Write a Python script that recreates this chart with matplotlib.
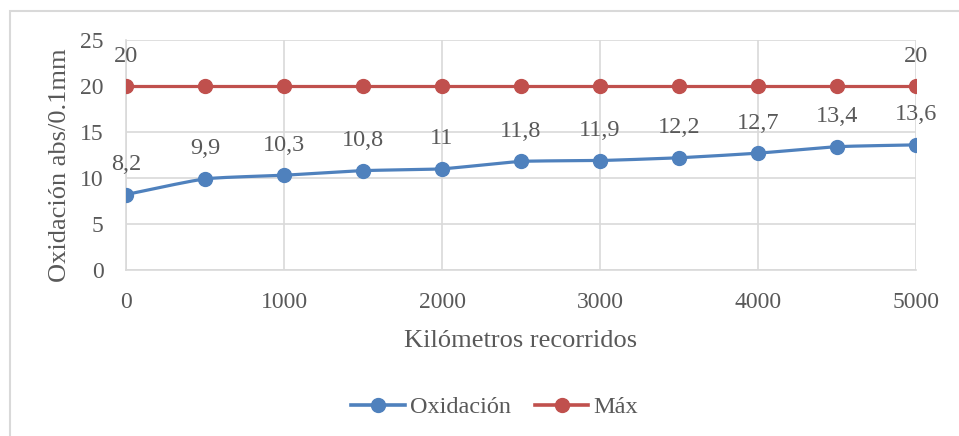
import numpy as np
import matplotlib
matplotlib.use("Agg")
import matplotlib.pyplot as plt
from matplotlib.patches import Rectangle

# Data
km = [0, 500, 1000, 1500, 2000, 2500, 3000, 3500, 4000, 4500, 5000]
oxidacion = [8.2, 9.9, 10.3, 10.8, 11.0, 11.8, 11.9, 12.2, 12.7, 13.4, 13.6]
oxidacion_labels = ["8,2", "9,9", "10,3", "10,8", "11", "11,8", "11,9", "12,2", "12,7", "13,4", "13,6"]
maximo = [20] * 11
x_ticks = [0, 1000, 2000, 3000, 4000, 5000]
y_ticks = [0, 5, 10, 15, 20, 25]

BLUE = "#4F81BD"
RED = "#C0504D"
TEXT = "#595959"
GRID = "#D9D9D9"

plt.rcParams["font.family"] = ["Liberation Serif", "DejaVu Serif"]


def smooth(xs, ys, n=20):
    """Hermite smoothing of a polyline (for drawing only)."""
    xs = np.asarray(xs, float)
    ys = np.asarray(ys, float)
    px = np.concatenate([[2 * xs[0] - xs[1]], xs, [2 * xs[-1] - xs[-2]]])
    py = np.concatenate([[2 * ys[0] - ys[1]], ys, [2 * ys[-1] - ys[-2]]])
    outx, outy = [], []
    t = np.linspace(0, 1, n, endpoint=False)
    for i in range(1, len(px) - 2):
        for arr, out in ((px, outx), (py, outy)):
            p0, p1, p2, p3 = arr[i - 1], arr[i], arr[i + 1], arr[i + 2]
            m1 = (p2 - p0) / 2 * 0.6
            m2 = (p3 - p1) / 2 * 0.6
            h00 = 2 * t**3 - 3 * t**2 + 1
            h10 = t**3 - 2 * t**2 + t
            h01 = -2 * t**3 + 3 * t**2
            h11 = t**3 - t**2
            out.extend(h00 * p1 + h10 * m1 + h01 * p2 + h11 * m2)
    outx.append(xs[-1])
    outy.append(ys[-1])
    return np.array(outx), np.array(outy)


fig = plt.figure(figsize=(9.59, 4.36), dpi=100)
ax = fig.add_axes([126 / 959, 1 - 270 / 436, (916 - 126) / 959, (270 - 40) / 436])

# Outer chart frame
fig.patches.append(Rectangle((9.5 / 959, -0.1), 1.2, 1 - 11 / 436 + 0.1,
                             transform=fig.transFigure, fill=False,
                             edgecolor="#D9D9D9", linewidth=1.5))

sx, sy = smooth(km, oxidacion)
ax.plot(sx, sy, color=BLUE, linewidth=2.3, solid_capstyle="round", zorder=3)
ax.plot(km, oxidacion, linestyle="none", marker="o", markersize=10,
        color=BLUE, zorder=4)
ax.plot(km, maximo, color=RED, linewidth=2.3, marker="o", markersize=10, zorder=3)

# Legend proxies
ax.plot([], [], color=BLUE, linewidth=2.6, marker="o", markersize=10, label="Oxidación")
ax.plot([], [], color=RED, linewidth=2.6, marker="o", markersize=10, label="Máx")

for x, y, lab in zip(km, oxidacion, oxidacion_labels):
    ax.annotate(lab, (x, y), xytext=(0, 14), textcoords="offset points",
                ha="center", va="bottom", fontsize=17.5, color=TEXT)
for i in (0, len(km) - 1):
    ax.annotate("20", (km[i], maximo[i]), xytext=(0, 14), textcoords="offset points",
                ha="center", va="bottom", fontsize=17.5, color=TEXT)

ax.set_xlim(0, 5000)
ax.set_ylim(0, 25)
ax.set_xticks(x_ticks)
ax.set_yticks(y_ticks)
ax.grid(True, color=GRID, linewidth=1.2, zorder=0)
ax.set_axisbelow(True)
for side in ("top", "right"):
    ax.spines[side].set_visible(False)
for side in ("left", "bottom"):
    ax.spines[side].set_color(GRID)
    ax.spines[side].set_linewidth(1.2)
ax.tick_params(axis="both", length=0, labelsize=17, colors=TEXT)
ax.tick_params(axis="x", pad=16)
ax.tick_params(axis="y", pad=16)

ax.set_xlabel("Kilómetros recorridos", fontsize=19, color=TEXT, labelpad=12)
ax.set_ylabel("Oxidación abs/0.1mm", fontsize=19, color=TEXT, va="center")
ax.yaxis.set_label_coords(-0.083, 0.455)

fig.legend(loc="center", bbox_to_anchor=(0.5 + 15 / 959, 1 - 407 / 436), ncol=2,
           frameon=False, fontsize=17.5, labelcolor=TEXT, handlelength=2.2,
           columnspacing=1.0, handletextpad=0.2)

fig.savefig("out.png", dpi=100)
